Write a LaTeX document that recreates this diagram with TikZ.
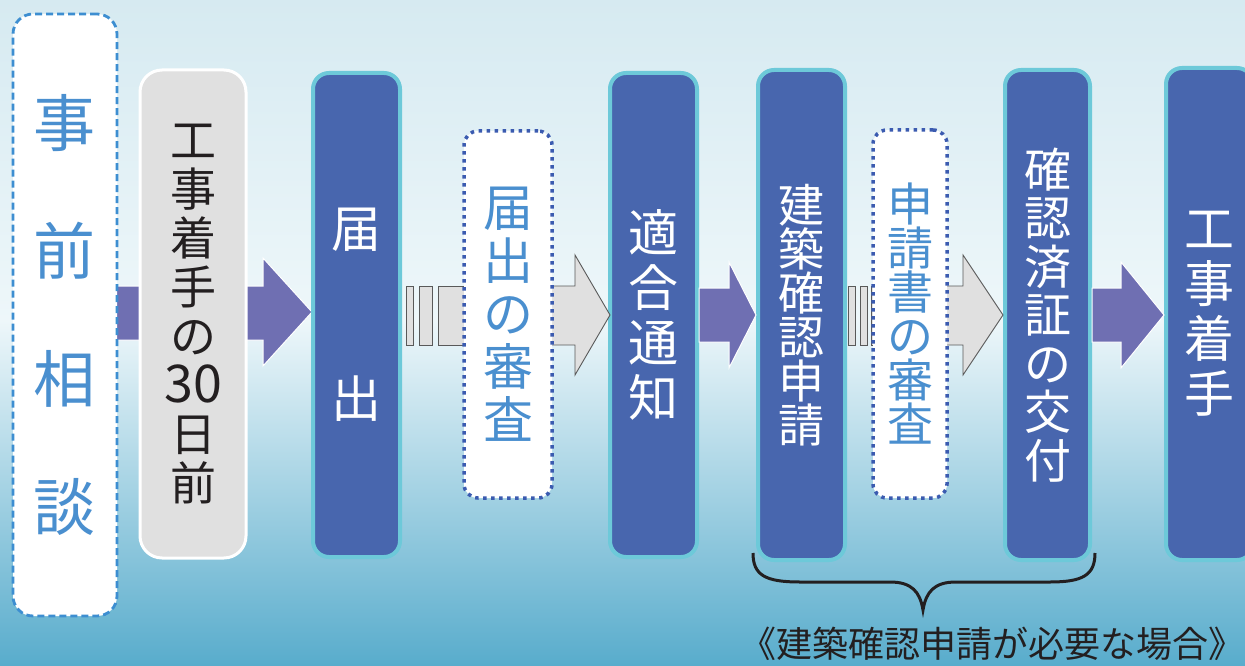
\documentclass[tikz,border=0pt]{standalone}
\usepackage{fontspec}
\newfontfamily\jp{Noto Sans CJK JP}
\definecolor{bgtop}{RGB}{214,234,241}
\definecolor{bgmid}{RGB}{238,247,250}
\definecolor{bgbot}{RGB}{88,172,204}
\definecolor{dashblue}{RGB}{61,142,209}
\definecolor{txtblue}{RGB}{74,143,207}
\definecolor{dotblue}{RGB}{59,91,176}
\definecolor{boxblue}{RGB}{72,102,174}
\definecolor{cyanb}{RGB}{109,201,217}
\definecolor{boxgray}{RGB}{224,224,224}
\definecolor{arrowpurple}{RGB}{111,111,178}
\definecolor{ink}{RGB}{35,31,32}
\begin{document}
\begin{tikzpicture}[x=1pt,y=-1pt,
  dashbox/.style={draw=dashblue, line width=2.8pt, dash pattern=on 7pt off 4pt, fill=white,
    rounded corners=20pt, align=center, inner sep=0pt, text=txtblue},
  graybox/.style={draw=white, line width=3pt, fill=boxgray, rounded corners=22pt,
    align=center, inner sep=0pt, text=ink},
  bluebox/.style={draw=cyanb, line width=4pt, fill=boxblue, rounded corners=16pt,
    align=center, inner sep=0pt, text=white},
  dotbox/.style={draw=dotblue, line width=3.5pt, dash pattern=on 3.5pt off 4.5pt, fill=white,
    rounded corners=14pt, align=center, inner sep=0pt, text=txtblue},
  fatarrow/.style={fill=arrowpurple, draw=white, line width=1pt},
  grayarrow/.style={fill=boxgray, draw=black!65, line width=0.9pt},
  bracestyle/.style={draw=ink, line width=3pt}
]
\useasboundingbox (0,0) rectangle (1245,666);
\clip (0,0) rectangle (1245,666);
% background
\fill[top color=bgtop,bottom color=bgmid] (0,0) rectangle (1245,321);
\fill[top color=bgmid,bottom color=bgbot] (0,320) rectangle (1245,666);

% purple arrow 1 (behind the first boxes)
\draw[fatarrow] (105,286) -- (263,286) -- (263,258) -- (312,312) -- (263,366) -- (263,340) -- (105,340) -- cycle;

% boxes
\node[dashbox, minimum width=104, minimum height=602, font=\jp\fontsize{62}{128}\selectfont] (b1) at (65,315) {事\\前\\相\\談};
\node[graybox, minimum width=106, minimum height=488, font=\jp\fontsize{46}{49}\selectfont] (b2) at (193,314) {工\\事\\着\\手\\の\\{\fontsize{52}{49}\selectfont 30}\\日\\前};
\node[bluebox, minimum width=87, minimum height=484, font=\jp\fontsize{50}{170}\selectfont] (b3) at (356.5,315) {届\\出};
\node[bluebox, minimum width=87, minimum height=484, font=\jp\fontsize{50}{55}\selectfont] (b5) at (653.5,315) {適\\合\\通\\知};
\node[bluebox, minimum width=87, minimum height=490, font=\jp\fontsize{46}{44}\selectfont] (b6) at (801.5,315) {建\\築\\確\\認\\申\\請};
\node[bluebox, minimum width=85, minimum height=490, font=\jp\fontsize{47}{48.5}\selectfont] (b8) at (1047.5,315) {確\\認\\済\\証\\の\\交\\付};
\node[bluebox, minimum width=87, minimum height=492, font=\jp\fontsize{50}{55}\selectfont] (b9) at (1209.5,314) {工\\事\\着\\手};

% gray striped arrow A
\draw[grayarrow] (406,286) rectangle (413,345);
\draw[grayarrow] (419,286) rectangle (432,345);
\draw[grayarrow] (438,286) rectangle (480,345);
\draw[grayarrow] (540,286) -- (575,286) -- (575,255) -- (610,315) -- (575,375) -- (575,345) -- (540,345) -- cycle;
\node[dotbox, minimum width=88, minimum height=367, font=\jp\fontsize{50}{53}\selectfont] (b4) at (508,314.5) {届\\出\\の\\審\\査};

% gray striped arrow B
\draw[grayarrow] (848,286) rectangle (855,345);
\draw[grayarrow] (860,286) rectangle (867,345);
\draw[grayarrow] (871,286) rectangle (885,345);
\draw[grayarrow] (935,286) -- (963,286) -- (963,255) -- (1003,315) -- (963,375) -- (963,345) -- (935,345) -- cycle;
\node[dotbox, minimum width=74, minimum height=368, font=\jp\fontsize{46}{44}\selectfont] (b7) at (910,314) {申\\請\\書\\の\\審\\査};

% purple arrows 2, 3
\draw[fatarrow] (b5.east |- 0,288) -- (729,288) -- (729,262) -- (b6.west |- 0,315) -- (729,368) -- (729,342) -- (b5.east |- 0,342) -- cycle;
\draw[fatarrow] (b8.east |- 0,288) -- (1121,288) -- (1121,262) -- (b9.west |- 0,315) -- (1121,368) -- (1121,342) -- (b8.east |- 0,342) -- cycle;

% brace
\coordinate (brL) at (753,553);
\coordinate (brM) at (923,610);
\coordinate (brR) at (1095,553);
\draw[bracestyle] (brL) .. controls (753,575) and (765,582) .. (800,582) -- (890,582)
  .. controls (912,582) and (920,592) .. (brM)
  .. controls (926,592) and (934,582) .. (956,582) -- (1050,582)
  .. controls (1083,582) and (1095,575) .. (brR);
\node[text=ink, font=\jp\fontsize{36}{40}\selectfont, inner sep=0pt] (note) at (992,644) {《建築確認申請が必要な場合》};
\end{tikzpicture}
\end{document}
